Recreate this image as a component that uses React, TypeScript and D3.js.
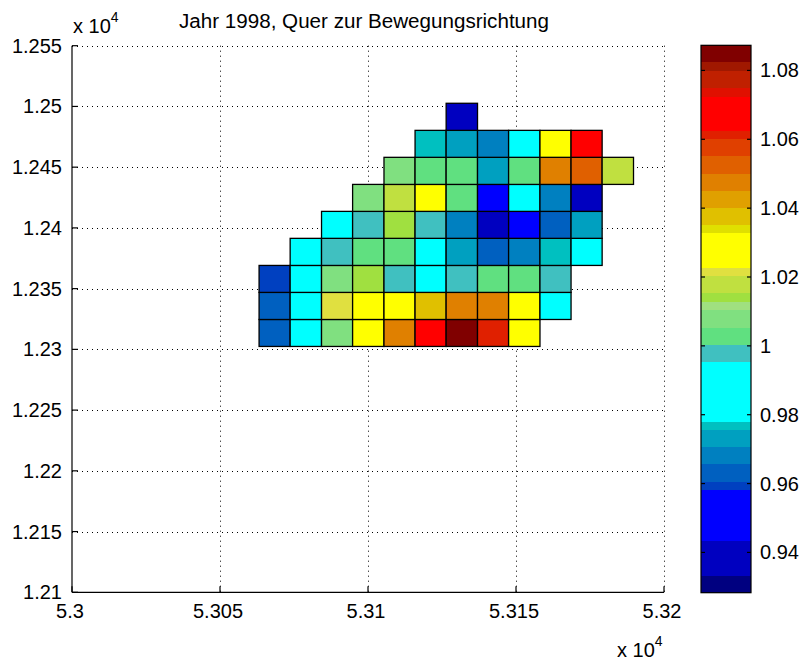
import React, { useEffect, useRef } from 'react';
import * as d3 from 'd3';

const titleText = 'Jahr 1998, Quer zur Bewegungsrichtung';

// axis ticks (data units, shown as x 10^4)
const xTicks = [53000, 53050, 53100, 53150, 53200];
const yTicks = [12100, 12150, 12200, 12250, 12300, 12350, 12400, 12450, 12500, 12550];

// pcolor cell edges
const xEdges = [53063.2, 53073.7, 53084.3, 53094.8, 53105.4, 53115.9, 53126.4, 53137.0, 53147.5, 53158.1, 53168.6, 53179.1, 53189.7];
const yEdges = [12302.4, 12324.6, 12346.9, 12369.1, 12391.4, 12413.6, 12435.8, 12458.1, 12480.3, 12502.6];

// cell values, bottom row first, one entry per column
const row0 = [0.963, 0.987, 1.008, 1.028, 1.048, 1.067, 1.085, 1.061, 1.028, null, null, null];
const row1 = [0.963, 0.987, 1.021, 1.028, 1.028, 1.037, 1.048, 1.048, 1.028, 0.987, null, null];
const row2 = [0.959, 0.987, 1.008, 1.014, 0.998, 0.987, 0.998, 1.003, 1.003, 0.998, null, null];
const row3 = [null, 0.987, 0.998, 1.003, 1.003, 0.987, 0.973, 0.963, 0.968, 0.977, 0.987, null];
const row4 = [null, null, 0.987, 0.998, 1.014, 0.998, 0.968, 0.938, 0.951, 0.963, 0.973, null];
const row5 = [null, null, null, 1.008, 1.018, 1.028, 1.003, 0.951, 0.987, 0.968, 0.938, null];
const row6 = [null, null, null, null, 1.008, 1.003, 1.003, 0.973, 1.003, 1.048, 1.052, 1.018];
const row7 = [null, null, null, null, null, 0.977, 0.973, 0.968, 0.987, 1.028, 1.067, null];
const row8 = [null, null, null, null, null, null, 0.938, null, null, null, null, null];
const rows = [row0, row1, row2, row3, row4, row5, row6, row7, row8];

// colour axis
const cLimits = [0.9283, 1.0873];
const cbTicks = [0.94, 0.96, 0.98, 1, 1.02, 1.04, 1.06, 1.08];
// colormap (64 entries), bottom to top: [entries, colour]
const cmapBands: [number, string][] = [
  [2, '#000080'], [4, '#0000c0'], [6, '#0000ff'], [1, '#0040c0'], [2, '#0060c0'],
  [2, '#0080c0'], [2, '#00a0c0'], [1, '#00c0c0'], [7, '#00ffff'], [2, '#40c0c0'],
  [2, '#60e080'], [2, '#80e080'], [1, '#a0e080'], [1, '#a0e040'], [2, '#c0e040'],
  [1, '#e0e040'], [4, '#ffff00'], [1, '#e0e000'], [2, '#e0c000'], [2, '#e0a000'],
  [2, '#e08000'], [2, '#e06000'], [2, '#e04000'], [1, '#e02000'], [4, '#ff0000'],
  [1, '#e01000'], [2, '#c02000'], [1, '#a01800'], [2, '#800000'],
];

const FONT = '"Liberation Sans", Arial, Helvetica, sans-serif';

export default function App() {
  const ref = useRef<SVGSVGElement>(null);

  useEffect(() => {
    const svg = d3.select(ref.current);
    svg.selectAll('*').remove();

    const x = d3.scaleLinear().domain([53000, 53200]).range([72, 664]);
    const y = d3.scaleLinear().domain([12100, 12550]).range([592.3, 45.7]);

    const colors: string[] = [];
    const bands: { a: number; b: number; c: string }[] = [];
    cmapBands.forEach(([n, c]) => {
      bands.push({ a: colors.length, b: colors.length + n, c });
      for (let i = 0; i < n; i++) colors.push(c);
    });
    const color = d3.scaleQuantize<string>().domain(cLimits).range(colors);

    // grid
    const grid = svg.append('g').attr('stroke', '#000').attr('stroke-width', 1).attr('stroke-dasharray', '1 4');
    grid.selectAll('line.v').data(xTicks.slice(1)).enter().append('line')
      .attr('x1', d => Math.round(x(d)) + 0.5).attr('x2', d => Math.round(x(d)) + 0.5)
      .attr('y1', y(12550)).attr('y2', y(12100));
    grid.selectAll('line.h').data(yTicks.slice(1)).enter().append('line')
      .attr('y1', d => Math.round(y(d)) + 0.5).attr('y2', d => Math.round(y(d)) + 0.5)
      .attr('x1', x(53000)).attr('x2', x(53200));

    // cells
    const cells: { i: number; j: number; v: number }[] = [];
    rows.forEach((r, j) => r.forEach((v, i) => { if (v !== null) cells.push({ i, j, v }); }));
    svg.append('g').selectAll('rect').data(cells).enter().append('rect')
      .attr('x', d => x(xEdges[d.i]))
      .attr('y', d => y(yEdges[d.j + 1]))
      .attr('width', d => x(xEdges[d.i + 1]) - x(xEdges[d.i]))
      .attr('height', d => y(yEdges[d.j]) - y(yEdges[d.j + 1]))
      .attr('fill', d => color(d.v))
      .attr('stroke', '#000').attr('stroke-width', 1.3);

    // axes (box off)
    const ax = svg.append('g').attr('stroke', '#000').attr('stroke-width', 1.2);
    ax.append('line').attr('x1', x(53000)).attr('x2', x(53000)).attr('y1', y(12550)).attr('y2', y(12100));
    ax.append('line').attr('x1', x(53000)).attr('x2', x(53200)).attr('y1', y(12100)).attr('y2', y(12100));
    ax.selectAll('line.ty').data(yTicks).enter().append('line')
      .attr('x1', x(53000)).attr('x2', x(53000) + 6).attr('y1', d => y(d)).attr('y2', d => y(d));
    ax.selectAll('line.tx').data(xTicks).enter().append('line')
      .attr('y1', y(12100)).attr('y2', y(12100) - 6).attr('x1', d => x(d)).attr('x2', d => x(d));

    const txt = svg.append('g').attr('font-family', FONT).attr('font-size', 20).attr('fill', '#000');
    txt.selectAll('text.yl').data(yTicks).enter().append('text')
      .attr('x', 62).attr('y', d => y(d) + 7).attr('text-anchor', 'end')
      .text(d => String(+(d / 1e4).toFixed(4)));
    txt.selectAll('text.xl').data(xTicks).enter().append('text')
      .attr('x', d => x(d) - 2).attr('y', 618).attr('text-anchor', 'middle')
      .text(d => String(+(d / 1e4).toFixed(4)));

    // exponent labels
    const e1 = txt.append('text').attr('x', 73).attr('y', 33);
    e1.append('tspan').text('x 10');
    e1.append('tspan').attr('font-size', 14).attr('dy', -11).text('4');
    const e2 = txt.append('text').attr('x', 617).attr('y', 657);
    e2.append('tspan').text('x 10');
    e2.append('tspan').attr('font-size', 14).attr('dy', -11).text('4');

    // title
    txt.append('text').attr('x', 364).attr('y', 28).attr('text-anchor', 'middle')
      .attr('textLength', 370).attr('lengthAdjust', 'spacingAndGlyphs').text(titleText);

    // colorbar
    const cy = d3.scaleLinear().domain([0, colors.length]).range([592.7, 45.3]);
    const cbX = 701, cbW = 50;
    svg.append('g').attr('shape-rendering', 'crispEdges').selectAll('rect').data(bands).enter().append('rect')
      .attr('x', cbX).attr('width', cbW)
      .attr('y', d => cy(d.b))
      .attr('height', d => cy(d.a) - cy(d.b))
      .attr('fill', d => d.c);
    const cv = d3.scaleLinear().domain(cLimits).range([592.7, 45.3]);
    const cb = svg.append('g').attr('stroke', '#000').attr('stroke-width', 1.2);
    cb.append('rect').attr('x', cbX).attr('y', cv(cLimits[1])).attr('width', cbW)
      .attr('height', cv(cLimits[0]) - cv(cLimits[1])).attr('fill', 'none');
    cb.selectAll('line.l').data(cbTicks).enter().append('line')
      .attr('x1', cbX).attr('x2', cbX + 4).attr('y1', d => cv(d)).attr('y2', d => cv(d));
    cb.selectAll('line.r').data(cbTicks).enter().append('line')
      .attr('x1', cbX + cbW - 4).attr('x2', cbX + cbW).attr('y1', d => cv(d)).attr('y2', d => cv(d));
    txt.selectAll('text.cl').data(cbTicks).enter().append('text')
      .attr('x', 760).attr('y', d => cv(d) + 7)
      .text(d => String(+d.toFixed(2)));
  }, []);

  return (
    <svg ref={ref} width={799} height={665}
      style={{ position: 'absolute', left: 0, top: 0, background: '#fff' }} />
  );
}
